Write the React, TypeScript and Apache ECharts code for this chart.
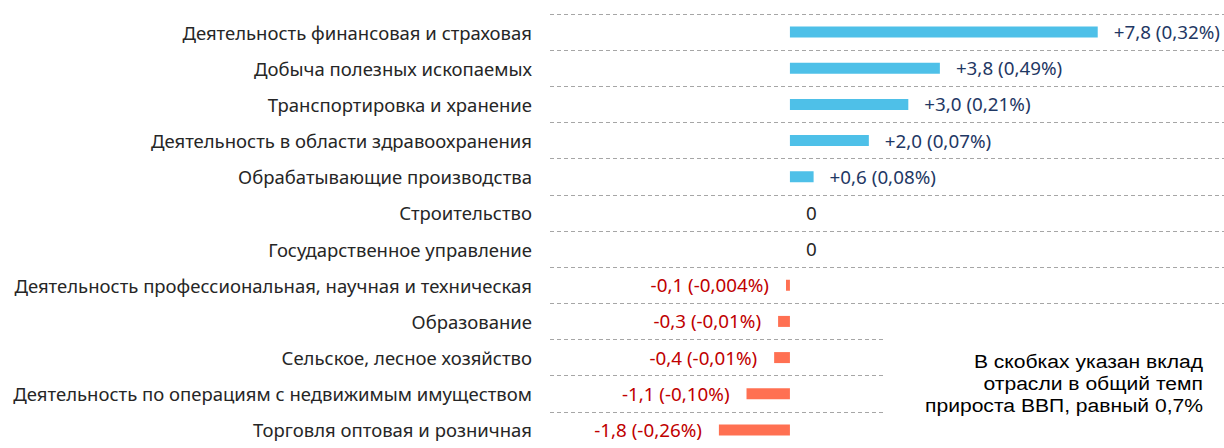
import React, { useEffect, useRef } from "react";
import * as echarts from "echarts";

const categories = [
  "Деятельность финансовая и страховая",
  "Добыча полезных ископаемых",
  "Транспортировка и хранение",
  "Деятельность в области здравоохранения",
  "Обрабатывающие производства",
  "Строительство",
  "Государственное управление",
  "Деятельность профессиональная, научная и техническая",
  "Образование",
  "Сельское, лесное хозяйство",
  "Деятельность по операциям с недвижимым имуществом",
  "Торговля оптовая и розничная",
];

const values = [7.8, 3.8, 3.0, 2.0, 0.6, 0, 0, -0.1, -0.3, -0.4, -1.1, -1.8];

const contributions = [
  "0,32%", "0,49%", "0,21%", "0,07%", "0,08%", "", "",
  "-0,004%", "-0,01%", "-0,01%", "-0,10%", "-0,26%",
];

const noteLines = [
  "В скобках указан вклад",
  "отрасли в общий темп",
  "прироста ВВП, равный 0,7%",
];

const FONT = '"Noto Sans", sans-serif';

function fmt(v: number): string {
  const s = Math.abs(v).toFixed(1).replace(".", ",");
  if (v > 0) return "+" + s;
  if (v < 0) return "-" + s;
  return "0";
}

export default function App() {
  const ref = useRef<HTMLDivElement>(null);
  useEffect(() => {
    if (!ref.current) return;
    const chart = echarts.init(ref.current, undefined, { renderer: "svg" });
    const data = values.map((v, i) => {
      const pos = v > 0;
      const neg = v < 0;
      return {
        value: v,
        itemStyle: { color: neg ? "#FF7052" : "#4EC0E8" },
        label: {
          show: true,
          position: neg ? "left" : "right",
          distance: neg ? 17 : 16,
          color: neg ? "#C00000" : pos ? "#1F3864" : "#262626",
          fontFamily: FONT,
          fontSize: 18.8,
          formatter: () =>
            v === 0 ? "0" : fmt(v) + " (" + contributions[i] + ")",
        },
      };
    });
    chart.setOption({
      animation: false,
      grid: { left: 550, right: 0, top: 14, height: 440, containLabel: false },
      xAxis: {
        type: "value",
        min: -6.08,
        max: 11,
        show: false,
        splitLine: { show: false },
      },
      yAxis: {
        type: "category",
        inverse: true,
        data: categories,
        axisLine: { show: false },
        axisTick: { show: false, interval: 0 },
        axisLabel: {
          interval: 0,
          margin: 18,
          color: "#262626",
          fontFamily: FONT,
          fontSize: 18.5,
        },
        splitLine: {
          show: true,
          interval: 0,
          lineStyle: { color: "#A6A6A6", width: 1, type: [4, 3] },
        },
      },
      series: [
        {
          type: "bar",
          data,
          barWidth: 11,
        },
      ],
      graphic: [
        {
          type: "rect",
          z: 100,
          shape: { x: 883, y: 330, width: 341, height: 118 },
          style: { fill: "#ffffff" },
        },
        {
          type: "text",
          z: 101,
          x: 1203,
          y: 383,
          scaleX: 1.11,
          style: {
            text: noteLines.join("\n"),
            align: "right",
            verticalAlign: "middle",
            font: '19px "Liberation Sans", Arial, sans-serif',
            lineHeight: 22,
            fill: "#000000",
          },
        },
      ],
    });
    return () => chart.dispose();
  }, []);
  return (
    <div
      ref={ref}
      style={{ position: "absolute", left: 0, top: 0, width: 1224, height: 448 }}
    />
  );
}
